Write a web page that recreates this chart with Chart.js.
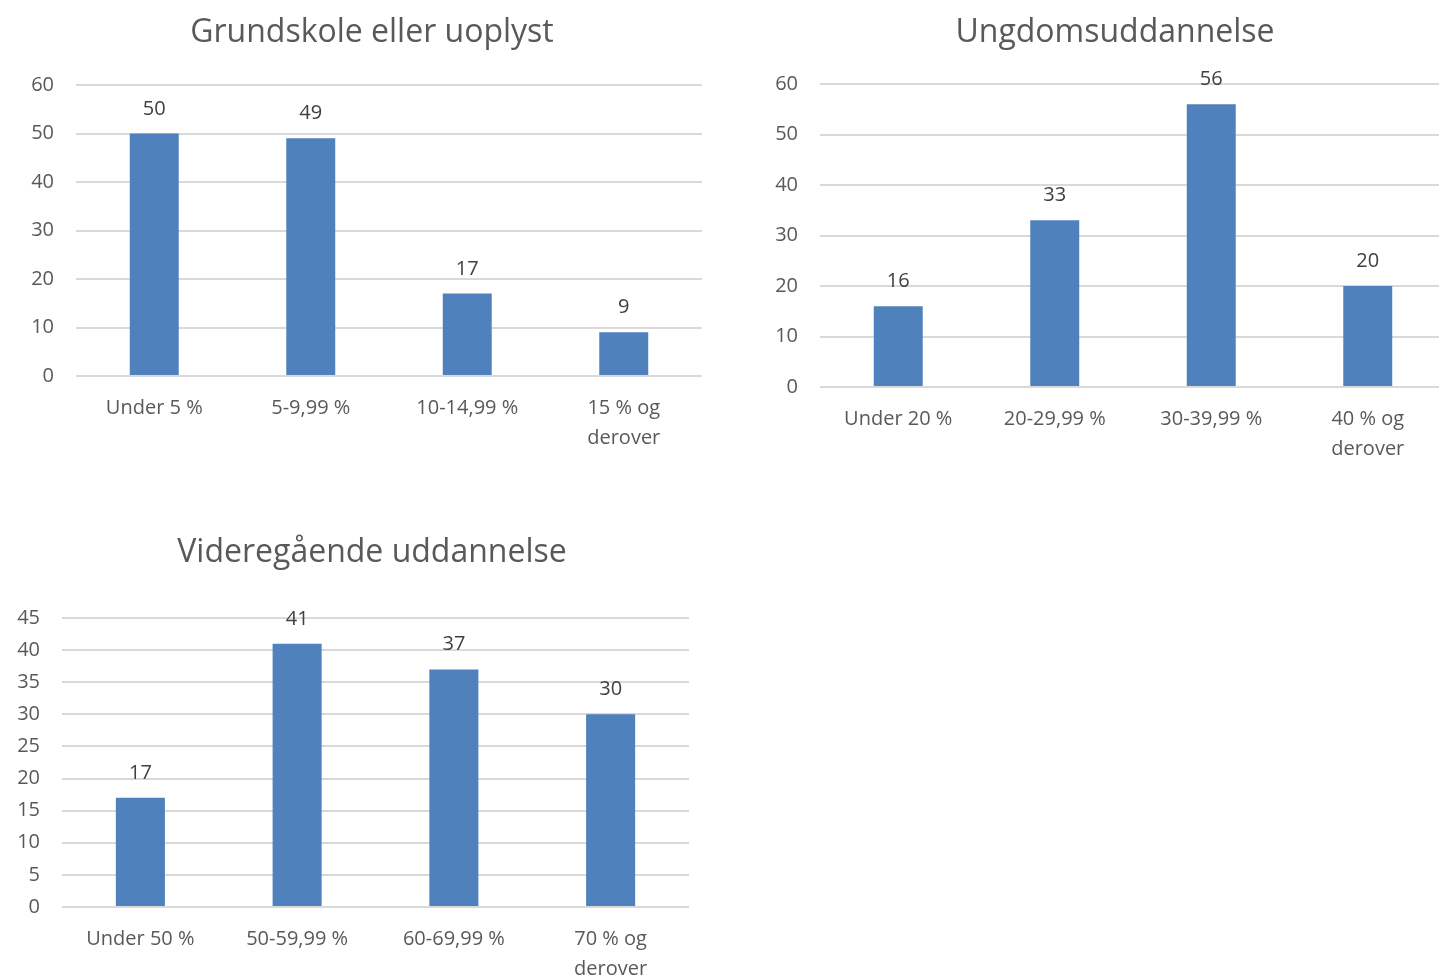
<!DOCTYPE html>
<html><head><meta charset="utf-8">
<script src="https://cdn.jsdelivr.net/npm/chart.js@4"></script>
<style>
html,body{margin:0;padding:0;background:#fff;overflow:hidden;width:1439px;height:976px;}
.box{position:absolute;}
</style></head>
<body>
<div class="box" id="b1" style="left:0;top:0;width:744px;height:480px;"><canvas id="c1"></canvas></div>
<div class="box" id="b2" style="left:744px;top:0;width:742px;height:480px;"><canvas id="c2"></canvas></div>
<div class="box" id="b3" style="left:0;top:500px;width:744px;height:476px;"><canvas id="c3"></canvas></div>
<script>
const title1 = "Grundskole eller uoplyst";
const cats1 = ["Under 5 %", "5-9,99 %", "10-14,99 %", ["15 % og", "derover"]];
const vals1 = [50, 49, 17, 9];

const title2 = "Ungdomsuddannelse";
const cats2 = ["Under 20 %", "20-29,99 %", "30-39,99 %", ["40 % og", "derover"]];
const vals2 = [16, 33, 56, 20];

const title3 = "Videregående uddannelse";
const cats3 = ["Under 50 %", "50-59,99 %", "60-69,99 %", ["70 % og", "derover"]];
const vals3 = [17, 41, 37, 30];

const FONT = "'Open Sans', 'DejaVu Sans', sans-serif";

const labelPlugin = {
  id: 'valLabels',
  afterDatasetsDraw(chart) {
    const ctx = chart.ctx;
    const ds = chart.data.datasets[0];
    const meta = chart.getDatasetMeta(0);
    ctx.save();
    ctx.font = "20px " + FONT;
    ctx.fillStyle = "#404040";
    ctx.textAlign = "center";
    ctx.textBaseline = "alphabetic";
    meta.data.forEach((bar, i) => {
      ctx.fillText(String(ds.data[i]), bar.x, bar.y - 19);
    });
    ctx.restore();
  }
};

function make(id, title, cats, vals, opt) {
  new Chart(document.getElementById(id), {
    type: 'bar',
    data: { labels: cats, datasets: [{ data: vals, backgroundColor: '#4f81bd', borderWidth: 0,
      categoryPercentage: 1, barPercentage: 49 / 156.6 }] },
    plugins: [labelPlugin],
    options: {
      responsive: true, maintainAspectRatio: false, animation: false,
      layout: { padding: 0 },
      plugins: {
        legend: { display: false }, tooltip: { enabled: false },
        title: { display: true, text: title, color: '#595959',
          font: { family: FONT, size: 32, weight: 'normal', lineHeight: '38px' },
          padding: { top: opt.titleTop, bottom: opt.titleBottom } }
      },
      scales: {
        x: {
          grid: { display: false, drawTicks: false },
          border: { display: false },
          ticks: { color: '#595959', font: { family: FONT, size: 20, lineHeight: 1.5 }, padding: 17, maxRotation: 0, autoSkip: false },
          afterFit(s) { s.height = opt.xHeight; }
        },
        y: {
          min: 0, max: opt.max,
          grid: { color: '#d9d9d9', lineWidth: 2, drawTicks: false },
          border: { display: false },
          ticks: { stepSize: opt.step, color: '#595959', font: { family: FONT, size: 20 }, padding: 22 },
          afterFit(s) { s.width = opt.yWidth; }
        },
        ySpace: {
          position: 'right', display: true,
          grid: { display: false, drawTicks: false, drawOnChartArea: false },
          border: { display: false },
          ticks: { display: false },
          afterFit(s) { s.width = opt.rightSpace; }
        }
      }
    }
  });
}

make('c1', title1, cats1, vals1, { rightSpace: 42, yWidth: 76, titleTop: 14, titleBottom: 33, xHeight: 104, max: 60, step: 10 });
make('c2', title2, cats2, vals2, { rightSpace: 40, yWidth: 76, titleTop: 14, titleBottom: 32, xHeight: 93, max: 60, step: 10 });
make('c3', title3, cats3, vals3, { rightSpace: 55, yWidth: 62, titleTop: 34, titleBottom: 46, xHeight: 69, max: 45, step: 5 });
</script>
</body></html>
